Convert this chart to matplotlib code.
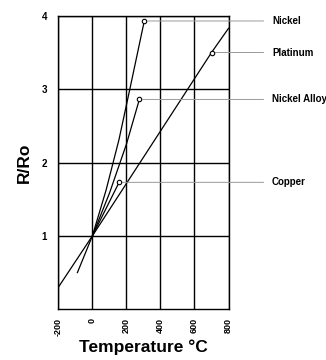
import numpy as np
import matplotlib
matplotlib.use("Agg")
import matplotlib.pyplot as plt

plt.rcParams['font.family'] = ['Liberation Sans', 'DejaVu Sans']
plt.rcParams['font.weight'] = 'bold'

# curves (temperature in C, resistance ratio R/Ro)
nickel_t = [0, 80, 156, 220, 305]
nickel_r = [1.0, 1.62, 2.31, 3.0, 3.93]

platinum_t = [-200, 0, 700, 800]
platinum_r = [0.30, 1.0, 3.50, 3.83]

alloy_t = [-88, 0, 100, 200, 276]
alloy_r = [0.50, 1.0, 1.58, 2.25, 2.86]

copper_t = [0, 157]
copper_r = [1.0, 1.73]

# labelled marker points
names = ["Nickel", "Platinum", "Nickel Alloy", "Copper"]
mark_t = [305, 700, 276, 157]
mark_r = [3.93, 3.50, 2.86, 1.73]

x_ticks = [-200, 0, 200, 400, 600, 800]
y_ticks = [1, 2, 3, 4]

fig = plt.figure(figsize=(3.26, 3.6), dpi=100)
ax = fig.add_axes([0.179, 0.141, 0.522, 0.815])

for t, r in [(nickel_t, nickel_r), (platinum_t, platinum_r),
             (alloy_t, alloy_r), (copper_t, copper_r)]:
    ax.plot(t, r, color='black', lw=0.9, zorder=3)

ax.plot(mark_t, mark_r, 'o', ms=3.2, mfc='white', mec='black', mew=0.8,
        zorder=5, ls='none')

# leader lines + labels to the right of the plot
for name, t, r in zip(names, mark_t, mark_r):
    ax.annotate(name, xy=(t, r), xycoords='data',
                xytext=(1.255, r), textcoords=('axes fraction', 'data'),
                ha='left', va='center', fontsize=7, fontweight='bold',
                arrowprops=dict(arrowstyle='-', color='#9a9a9a', lw=0.7,
                                shrinkA=4, shrinkB=2.5),
                annotation_clip=False)

ax.set_xlim(-200, 800)
ax.set_ylim(0, 4)
ax.set_xticks(x_ticks)
ax.set_yticks(y_ticks)
ax.set_xticklabels([str(v) for v in x_ticks], rotation=90, fontsize=6.5,
                   fontweight='bold')
ax.set_yticklabels([str(v) for v in y_ticks], fontsize=7, fontweight='bold')
ax.tick_params(length=0, pad=6)
ax.tick_params(axis='y', pad=8)

ax.grid(True, color='black', lw=1.0)
ax.set_axisbelow(True)
for s in ax.spines.values():
    s.set_linewidth(1.0)

ax.set_xlabel("Temperature °C", fontsize=12.5, fontweight='bold', labelpad=3)
ax.set_ylabel("R/Ro", fontsize=12.5, fontweight='bold', labelpad=7)

fig.savefig("out.png", dpi=100)
